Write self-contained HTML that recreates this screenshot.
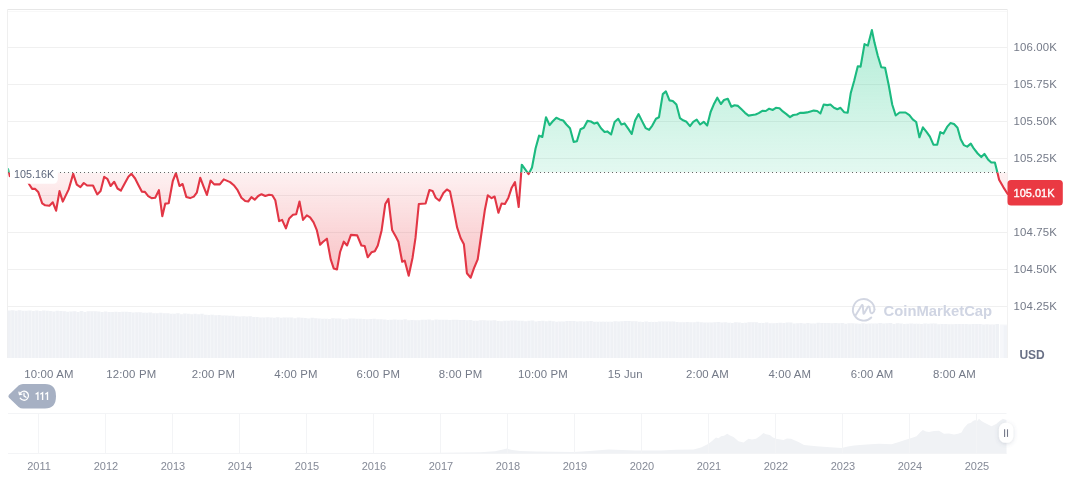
<!DOCTYPE html>
<html><head><meta charset="utf-8"><title>Chart</title>
<style>
html,body{margin:0;padding:0;background:#fff;}
body{width:1072px;height:477px;overflow:hidden;font-family:"Liberation Sans",sans-serif;}
svg{display:block;will-change:transform;font-family:"Liberation Sans",sans-serif;}
.ax{font-size:11.4px;fill:#747a88;letter-spacing:0.15px;}
.yr{font-size:11px;fill:#858a97;}
</style></head><body>
<svg width="1072" height="477" viewBox="0 0 1072 477">
<defs>
<linearGradient id="gg" gradientUnits="userSpaceOnUse" x1="0" y1="30" x2="0" y2="172.5">
<stop offset="0" stop-color="#16c784" stop-opacity="0.32"/><stop offset="1" stop-color="#16c784" stop-opacity="0.12"/></linearGradient>
<linearGradient id="rg" gradientUnits="userSpaceOnUse" x1="0" y1="172.5" x2="0" y2="278">
<stop offset="0" stop-color="#ea3943" stop-opacity="0.07"/><stop offset="1" stop-color="#ea3943" stop-opacity="0.32"/></linearGradient>
<clipPath id="up"><rect x="8.2" y="0" width="1000" height="172.5"/></clipPath>
<clipPath id="dn"><rect x="8.2" y="172.5" width="1000" height="300"/></clipPath>
<filter id="sh" x="-50%" y="-50%" width="200%" height="200%"><feDropShadow dx="0" dy="1" stdDeviation="2.2" flood-color="#58667e" flood-opacity="0.22"/></filter>
<filter id="bl" x="-10%" y="-20%" width="120%" height="140%"><feGaussianBlur stdDeviation="0.5"/></filter>
</defs>
<!-- grid -->
<g stroke="#f0f0f0" stroke-width="1" fill="none">
<line x1="7.5" y1="47.5" x2="1007.5" y2="47.5"/><line x1="7.5" y1="84.5" x2="1007.5" y2="84.5"/><line x1="7.5" y1="121.5" x2="1007.5" y2="121.5"/><line x1="7.5" y1="158.5" x2="1007.5" y2="158.5"/><line x1="7.5" y1="195.5" x2="1007.5" y2="195.5"/><line x1="7.5" y1="232.5" x2="1007.5" y2="232.5"/><line x1="7.5" y1="269.5" x2="1007.5" y2="269.5"/><line x1="7.5" y1="306.5" x2="1007.5" y2="306.5"/>
</g>
<g stroke-width="1" fill="none">
<line x1="7.5" y1="9.5" x2="1007.5" y2="9.5" stroke="#e7e7e7"/>
<line x1="7.5" y1="11.5" x2="1007.5" y2="11.5" stroke="#f8f8f8"/>
<line x1="7.5" y1="9.5" x2="7.5" y2="358.0" stroke="#efefef"/>
<line x1="1007.5" y1="9.5" x2="1007.5" y2="358.0" stroke="#f2f2f2"/>
</g>
<!-- volume -->
<path d="M7.5,358.0 L7.50,310.44 L10.94,310.44 L10.94,310.31 L14.39,310.31 L14.39,310.85 L17.83,310.85 L17.83,310.31 L21.27,310.31 L21.27,310.81 L24.71,310.81 L24.71,310.68 L28.16,310.68 L28.16,310.41 L31.60,310.41 L31.60,310.90 L35.04,310.90 L35.04,310.47 L38.48,310.47 L38.48,310.90 L41.93,310.90 L41.93,310.57 L45.37,310.57 L45.37,310.63 L48.81,310.63 L48.81,311.01 L52.26,311.01 L52.26,311.45 L55.70,311.45 L55.70,310.78 L59.14,310.78 L59.14,310.92 L62.58,310.92 L62.58,311.36 L66.03,311.36 L66.03,311.72 L69.47,311.72 L69.47,311.39 L72.91,311.39 L72.91,311.27 L76.35,311.27 L76.35,311.90 L79.80,311.90 L79.80,311.02 L83.24,311.02 L83.24,311.88 L86.68,311.88 L86.68,311.37 L90.12,311.37 L90.12,311.27 L93.57,311.27 L93.57,311.30 L97.01,311.30 L97.01,311.54 L100.45,311.54 L100.45,312.10 L103.90,312.10 L103.90,311.51 L107.34,311.51 L107.34,311.97 L110.78,311.97 L110.78,312.08 L114.22,312.08 L114.22,311.86 L117.67,311.86 L117.67,312.09 L121.11,312.09 L121.11,311.66 L124.55,311.66 L124.55,311.70 L127.99,311.70 L127.99,311.90 L131.44,311.90 L131.44,312.47 L134.88,312.47 L134.88,312.32 L138.32,312.32 L138.32,312.30 L141.77,312.30 L141.77,312.67 L145.21,312.67 L145.21,312.64 L148.65,312.64 L148.65,312.58 L152.09,312.58 L152.09,313.17 L155.54,313.17 L155.54,313.18 L158.98,313.18 L158.98,312.82 L162.42,312.82 L162.42,313.25 L165.86,313.25 L165.86,313.30 L169.31,313.30 L169.31,313.75 L172.75,313.75 L172.75,313.70 L176.19,313.70 L176.19,313.36 L179.64,313.36 L179.64,314.15 L183.08,314.15 L183.08,313.38 L186.52,313.38 L186.52,313.78 L189.96,313.78 L189.96,314.22 L193.41,314.22 L193.41,313.71 L196.85,313.71 L196.85,314.15 L200.29,314.15 L200.29,313.83 L203.73,313.83 L203.73,314.63 L207.18,314.63 L207.18,314.88 L210.62,314.88 L210.62,314.85 L214.06,314.85 L214.06,315.32 L217.51,315.32 L217.51,314.92 L220.95,314.92 L220.95,315.46 L224.39,315.46 L224.39,315.53 L227.83,315.53 L227.83,315.67 L231.28,315.67 L231.28,315.71 L234.72,315.71 L234.72,316.26 L238.16,316.26 L238.16,316.52 L241.60,316.52 L241.60,316.22 L245.05,316.22 L245.05,316.57 L248.49,316.57 L248.49,316.13 L251.93,316.13 L251.93,316.93 L255.38,316.93 L255.38,317.04 L258.82,317.04 L258.82,317.55 L262.26,317.55 L262.26,317.54 L265.70,317.54 L265.70,317.16 L269.15,317.16 L269.15,317.40 L272.59,317.40 L272.59,317.74 L276.03,317.74 L276.03,317.16 L279.47,317.16 L279.47,317.66 L282.92,317.66 L282.92,317.42 L286.36,317.42 L286.36,317.43 L289.80,317.43 L289.80,317.43 L293.24,317.43 L293.24,318.20 L296.69,318.20 L296.69,317.62 L300.13,317.62 L300.13,317.80 L303.57,317.80 L303.57,318.00 L307.02,318.00 L307.02,318.54 L310.46,318.54 L310.46,317.81 L313.90,317.81 L313.90,318.24 L317.34,318.24 L317.34,318.40 L320.79,318.40 L320.79,318.79 L324.23,318.79 L324.23,318.79 L327.67,318.79 L327.67,318.89 L331.11,318.89 L331.11,318.36 L334.56,318.36 L334.56,318.56 L338.00,318.56 L338.00,318.56 L341.44,318.56 L341.44,319.15 L344.89,319.15 L344.89,319.28 L348.33,319.28 L348.33,318.53 L351.77,318.53 L351.77,318.62 L355.21,318.62 L355.21,318.73 L358.66,318.73 L358.66,318.79 L362.10,318.79 L362.10,319.11 L365.54,319.11 L365.54,319.27 L368.98,319.27 L368.98,319.00 L372.43,319.00 L372.43,318.80 L375.87,318.80 L375.87,319.28 L379.31,319.28 L379.31,319.28 L382.76,319.28 L382.76,319.52 L386.20,319.52 L386.20,319.94 L389.64,319.94 L389.64,319.72 L393.08,319.72 L393.08,319.58 L396.53,319.58 L396.53,319.73 L399.97,319.73 L399.97,319.82 L403.41,319.82 L403.41,319.24 L406.85,319.24 L406.85,320.13 L410.30,320.13 L410.30,320.05 L413.74,320.05 L413.74,320.18 L417.18,320.18 L417.18,320.14 L420.62,320.14 L420.62,319.78 L424.07,319.78 L424.07,319.82 L427.51,319.82 L427.51,319.57 L430.95,319.57 L430.95,320.14 L434.40,320.14 L434.40,319.60 L437.84,319.60 L437.84,319.65 L441.28,319.65 L441.28,319.83 L444.72,319.83 L444.72,319.82 L448.17,319.82 L448.17,320.04 L451.61,320.04 L451.61,319.79 L455.05,319.79 L455.05,319.78 L458.49,319.78 L458.49,319.97 L461.94,319.97 L461.94,319.96 L465.38,319.96 L465.38,320.26 L468.82,320.26 L468.82,319.96 L472.27,319.96 L472.27,320.85 L475.71,320.85 L475.71,320.63 L479.15,320.63 L479.15,320.20 L482.59,320.20 L482.59,320.34 L486.04,320.34 L486.04,320.48 L489.48,320.48 L489.48,320.54 L492.92,320.54 L492.92,320.33 L496.36,320.33 L496.36,321.10 L499.81,321.10 L499.81,321.28 L503.25,321.28 L503.25,320.79 L506.69,320.79 L506.69,320.85 L510.14,320.85 L510.14,320.49 L513.58,320.49 L513.58,320.55 L517.02,320.55 L517.02,320.83 L520.46,320.83 L520.46,320.77 L523.91,320.77 L523.91,321.35 L527.35,321.35 L527.35,320.70 L530.79,320.70 L530.79,320.58 L534.23,320.58 L534.23,321.52 L537.68,321.52 L537.68,321.12 L541.12,321.12 L541.12,320.75 L544.56,320.75 L544.56,321.16 L548.01,321.16 L548.01,320.66 L551.45,320.66 L551.45,321.18 L554.89,321.18 L554.89,321.65 L558.33,321.65 L558.33,321.55 L561.78,321.55 L561.78,321.40 L565.22,321.40 L565.22,320.98 L568.66,320.98 L568.66,321.10 L572.10,321.10 L572.10,320.92 L575.55,320.92 L575.55,321.54 L578.99,321.54 L578.99,321.31 L582.43,321.31 L582.43,321.58 L585.88,321.58 L585.88,321.14 L589.32,321.14 L589.32,321.05 L592.76,321.05 L592.76,321.66 L596.20,321.66 L596.20,321.84 L599.65,321.84 L599.65,321.73 L603.09,321.73 L603.09,321.70 L606.53,321.70 L606.53,321.73 L609.97,321.73 L609.97,321.66 L613.42,321.66 L613.42,321.17 L616.86,321.17 L616.86,321.47 L620.30,321.47 L620.30,321.33 L623.74,321.33 L623.74,321.02 L627.19,321.02 L627.19,321.03 L630.63,321.03 L630.63,321.30 L634.07,321.30 L634.07,321.29 L637.52,321.29 L637.52,321.74 L640.96,321.74 L640.96,322.02 L644.40,322.02 L644.40,321.53 L647.84,321.53 L647.84,322.04 L651.29,322.04 L651.29,322.12 L654.73,322.12 L654.73,322.12 L658.17,322.12 L658.17,321.56 L661.61,321.56 L661.61,321.45 L665.06,321.45 L665.06,321.49 L668.50,321.49 L668.50,321.50 L671.94,321.50 L671.94,321.54 L675.39,321.54 L675.39,322.00 L678.83,322.00 L678.83,322.31 L682.27,322.31 L682.27,322.28 L685.71,322.28 L685.71,321.95 L689.16,321.95 L689.16,322.16 L692.60,322.16 L692.60,322.34 L696.04,322.34 L696.04,321.66 L699.48,321.66 L699.48,322.27 L702.93,322.27 L702.93,322.56 L706.37,322.56 L706.37,322.46 L709.81,322.46 L709.81,322.47 L713.26,322.47 L713.26,322.23 L716.70,322.23 L716.70,321.96 L720.14,321.96 L720.14,322.61 L723.58,322.61 L723.58,322.19 L727.03,322.19 L727.03,322.69 L730.47,322.69 L730.47,322.89 L733.91,322.89 L733.91,322.35 L737.35,322.35 L737.35,322.39 L740.80,322.39 L740.80,322.97 L744.24,322.97 L744.24,322.78 L747.68,322.78 L747.68,322.26 L751.13,322.26 L751.12,322.26 L754.57,322.26 L754.57,322.31 L758.01,322.31 L758.01,323.10 L761.45,323.10 L761.45,323.04 L764.90,323.04 L764.90,322.41 L768.34,322.41 L768.34,323.13 L771.78,323.13 L771.78,323.32 L775.22,323.32 L775.22,323.03 L778.67,323.03 L778.67,322.75 L782.11,322.75 L782.11,322.99 L785.55,322.99 L785.55,322.60 L788.99,322.60 L788.99,322.52 L792.44,322.52 L792.44,323.49 L795.88,323.49 L795.88,323.19 L799.32,323.19 L799.32,323.09 L802.77,323.09 L802.77,323.52 L806.21,323.52 L806.21,323.04 L809.65,323.04 L809.65,323.49 L813.09,323.49 L813.09,323.47 L816.54,323.47 L816.54,322.87 L819.98,322.87 L819.98,322.93 L823.42,322.93 L823.42,322.99 L826.86,322.99 L826.86,322.96 L830.31,322.96 L830.31,323.33 L833.75,323.33 L833.75,323.02 L837.19,323.02 L837.19,323.20 L840.64,323.20 L840.64,322.93 L844.08,322.93 L844.08,323.73 L847.52,323.73 L847.52,323.19 L850.96,323.19 L850.96,323.32 L854.41,323.32 L854.41,323.46 L857.85,323.46 L857.85,323.80 L861.29,323.80 L861.29,323.34 L864.73,323.34 L864.73,323.86 L868.18,323.86 L868.18,323.46 L871.62,323.46 L871.62,323.51 L875.06,323.51 L875.06,323.52 L878.51,323.52 L878.51,323.04 L881.95,323.04 L881.95,323.48 L885.39,323.48 L885.39,323.24 L888.83,323.24 L888.83,323.08 L892.28,323.08 L892.28,323.90 L895.72,323.90 L895.72,323.29 L899.16,323.29 L899.16,323.61 L902.60,323.61 L902.60,323.88 L906.05,323.88 L906.05,323.73 L909.49,323.73 L909.49,323.52 L912.93,323.52 L912.93,323.73 L916.38,323.73 L916.38,323.79 L919.82,323.79 L919.82,324.04 L923.26,324.04 L923.26,323.38 L926.70,323.38 L926.70,323.86 L930.15,323.86 L930.15,323.56 L933.59,323.56 L933.59,323.61 L937.03,323.61 L937.03,324.13 L940.47,324.13 L940.47,323.88 L943.92,323.88 L943.92,323.96 L947.36,323.96 L947.36,324.17 L950.80,324.17 L950.80,324.35 L954.24,324.35 L954.24,323.90 L957.69,323.90 L957.69,324.09 L961.13,324.09 L961.13,324.00 L964.57,324.00 L964.57,324.02 L968.02,324.02 L968.02,324.22 L971.46,324.22 L971.46,324.00 L974.90,324.00 L974.90,324.10 L978.34,324.10 L978.34,324.07 L981.79,324.07 L981.79,324.55 L985.23,324.55 L985.23,324.33 L988.67,324.33 L988.67,324.53 L992.11,324.53 L992.11,324.61 L995.56,324.61 L995.56,323.95 L999.00,323.95 L999,358.0 Z" fill="#eff1f5"/>
<g stroke="#f6f8fa" stroke-width="0.8"><line x1="10.94" y1="310.6" x2="10.94" y2="358.0"/><line x1="14.39" y1="310.7" x2="14.39" y2="358.0"/><line x1="17.83" y1="310.7" x2="17.83" y2="358.0"/><line x1="21.27" y1="310.8" x2="21.27" y2="358.0"/><line x1="24.71" y1="310.8" x2="24.71" y2="358.0"/><line x1="28.16" y1="310.8" x2="28.16" y2="358.0"/><line x1="31.60" y1="310.9" x2="31.60" y2="358.0"/><line x1="35.04" y1="310.9" x2="35.04" y2="358.0"/><line x1="38.48" y1="310.9" x2="38.48" y2="358.0"/><line x1="41.93" y1="311.0" x2="41.93" y2="358.0"/><line x1="45.37" y1="311.0" x2="45.37" y2="358.0"/><line x1="48.81" y1="311.1" x2="48.81" y2="358.0"/><line x1="52.26" y1="311.1" x2="52.26" y2="358.0"/><line x1="55.70" y1="311.1" x2="55.70" y2="358.0"/><line x1="59.14" y1="311.2" x2="59.14" y2="358.0"/><line x1="62.58" y1="311.2" x2="62.58" y2="358.0"/><line x1="66.03" y1="311.3" x2="66.03" y2="358.0"/><line x1="69.47" y1="311.3" x2="69.47" y2="358.0"/><line x1="72.91" y1="311.3" x2="72.91" y2="358.0"/><line x1="76.35" y1="311.4" x2="76.35" y2="358.0"/><line x1="79.80" y1="311.4" x2="79.80" y2="358.0"/><line x1="83.24" y1="311.5" x2="83.24" y2="358.0"/><line x1="86.68" y1="311.6" x2="86.68" y2="358.0"/><line x1="90.12" y1="311.6" x2="90.12" y2="358.0"/><line x1="93.57" y1="311.7" x2="93.57" y2="358.0"/><line x1="97.01" y1="311.7" x2="97.01" y2="358.0"/><line x1="100.45" y1="311.8" x2="100.45" y2="358.0"/><line x1="103.90" y1="311.8" x2="103.90" y2="358.0"/><line x1="107.34" y1="311.9" x2="107.34" y2="358.0"/><line x1="110.78" y1="311.9" x2="110.78" y2="358.0"/><line x1="114.22" y1="312.0" x2="114.22" y2="358.0"/><line x1="117.67" y1="312.0" x2="117.67" y2="358.0"/><line x1="121.11" y1="312.1" x2="121.11" y2="358.0"/><line x1="124.55" y1="312.1" x2="124.55" y2="358.0"/><line x1="127.99" y1="312.2" x2="127.99" y2="358.0"/><line x1="131.44" y1="312.2" x2="131.44" y2="358.0"/><line x1="134.88" y1="312.3" x2="134.88" y2="358.0"/><line x1="138.32" y1="312.4" x2="138.32" y2="358.0"/><line x1="141.77" y1="312.5" x2="141.77" y2="358.0"/><line x1="145.21" y1="312.6" x2="145.21" y2="358.0"/><line x1="148.65" y1="312.7" x2="148.65" y2="358.0"/><line x1="152.09" y1="312.8" x2="152.09" y2="358.0"/><line x1="155.54" y1="312.9" x2="155.54" y2="358.0"/><line x1="158.98" y1="313.0" x2="158.98" y2="358.0"/><line x1="162.42" y1="313.1" x2="162.42" y2="358.0"/><line x1="165.86" y1="313.2" x2="165.86" y2="358.0"/><line x1="169.31" y1="313.3" x2="169.31" y2="358.0"/><line x1="172.75" y1="313.4" x2="172.75" y2="358.0"/><line x1="176.19" y1="313.5" x2="176.19" y2="358.0"/><line x1="179.64" y1="313.6" x2="179.64" y2="358.0"/><line x1="183.08" y1="313.7" x2="183.08" y2="358.0"/><line x1="186.52" y1="313.8" x2="186.52" y2="358.0"/><line x1="189.96" y1="313.9" x2="189.96" y2="358.0"/><line x1="193.41" y1="314.0" x2="193.41" y2="358.0"/><line x1="196.85" y1="314.1" x2="196.85" y2="358.0"/><line x1="200.29" y1="314.2" x2="200.29" y2="358.0"/><line x1="203.73" y1="314.4" x2="203.73" y2="358.0"/><line x1="207.18" y1="314.5" x2="207.18" y2="358.0"/><line x1="210.62" y1="314.7" x2="210.62" y2="358.0"/><line x1="214.06" y1="314.9" x2="214.06" y2="358.0"/><line x1="217.51" y1="315.0" x2="217.51" y2="358.0"/><line x1="220.95" y1="315.2" x2="220.95" y2="358.0"/><line x1="224.39" y1="315.3" x2="224.39" y2="358.0"/><line x1="227.83" y1="315.5" x2="227.83" y2="358.0"/><line x1="231.28" y1="315.7" x2="231.28" y2="358.0"/><line x1="234.72" y1="315.8" x2="234.72" y2="358.0"/><line x1="238.16" y1="316.0" x2="238.16" y2="358.0"/><line x1="241.60" y1="316.2" x2="241.60" y2="358.0"/><line x1="245.05" y1="316.3" x2="245.05" y2="358.0"/><line x1="248.49" y1="316.5" x2="248.49" y2="358.0"/><line x1="251.93" y1="316.6" x2="251.93" y2="358.0"/><line x1="255.38" y1="316.8" x2="255.38" y2="358.0"/><line x1="258.82" y1="317.0" x2="258.82" y2="358.0"/><line x1="262.26" y1="317.1" x2="262.26" y2="358.0"/><line x1="265.70" y1="317.3" x2="265.70" y2="358.0"/><line x1="269.15" y1="317.5" x2="269.15" y2="358.0"/><line x1="272.59" y1="317.5" x2="272.59" y2="358.0"/><line x1="276.03" y1="317.6" x2="276.03" y2="358.0"/><line x1="279.47" y1="317.7" x2="279.47" y2="358.0"/><line x1="282.92" y1="317.7" x2="282.92" y2="358.0"/><line x1="286.36" y1="317.8" x2="286.36" y2="358.0"/><line x1="289.80" y1="317.8" x2="289.80" y2="358.0"/><line x1="293.24" y1="317.9" x2="293.24" y2="358.0"/><line x1="296.69" y1="318.0" x2="296.69" y2="358.0"/><line x1="300.13" y1="318.0" x2="300.13" y2="358.0"/><line x1="303.57" y1="318.1" x2="303.57" y2="358.0"/><line x1="307.02" y1="318.1" x2="307.02" y2="358.0"/><line x1="310.46" y1="318.2" x2="310.46" y2="358.0"/><line x1="313.90" y1="318.3" x2="313.90" y2="358.0"/><line x1="317.34" y1="318.3" x2="317.34" y2="358.0"/><line x1="320.79" y1="318.4" x2="320.79" y2="358.0"/><line x1="324.23" y1="318.4" x2="324.23" y2="358.0"/><line x1="327.67" y1="318.5" x2="327.67" y2="358.0"/><line x1="331.11" y1="318.6" x2="331.11" y2="358.0"/><line x1="334.56" y1="318.6" x2="334.56" y2="358.0"/><line x1="338.00" y1="318.7" x2="338.00" y2="358.0"/><line x1="341.44" y1="318.7" x2="341.44" y2="358.0"/><line x1="344.89" y1="318.8" x2="344.89" y2="358.0"/><line x1="348.33" y1="318.9" x2="348.33" y2="358.0"/><line x1="351.77" y1="318.9" x2="351.77" y2="358.0"/><line x1="355.21" y1="319.0" x2="355.21" y2="358.0"/><line x1="358.66" y1="319.0" x2="358.66" y2="358.0"/><line x1="362.10" y1="319.1" x2="362.10" y2="358.0"/><line x1="365.54" y1="319.2" x2="365.54" y2="358.0"/><line x1="368.98" y1="319.2" x2="368.98" y2="358.0"/><line x1="372.43" y1="319.3" x2="372.43" y2="358.0"/><line x1="375.87" y1="319.3" x2="375.87" y2="358.0"/><line x1="379.31" y1="319.4" x2="379.31" y2="358.0"/><line x1="382.76" y1="319.4" x2="382.76" y2="358.0"/><line x1="386.20" y1="319.5" x2="386.20" y2="358.0"/><line x1="389.64" y1="319.5" x2="389.64" y2="358.0"/><line x1="393.08" y1="319.5" x2="393.08" y2="358.0"/><line x1="396.53" y1="319.6" x2="396.53" y2="358.0"/><line x1="399.97" y1="319.6" x2="399.97" y2="358.0"/><line x1="403.41" y1="319.7" x2="403.41" y2="358.0"/><line x1="406.85" y1="319.7" x2="406.85" y2="358.0"/><line x1="410.30" y1="319.7" x2="410.30" y2="358.0"/><line x1="413.74" y1="319.8" x2="413.74" y2="358.0"/><line x1="417.18" y1="319.8" x2="417.18" y2="358.0"/><line x1="420.62" y1="319.9" x2="420.62" y2="358.0"/><line x1="424.07" y1="319.9" x2="424.07" y2="358.0"/><line x1="427.51" y1="319.9" x2="427.51" y2="358.0"/><line x1="430.95" y1="320.0" x2="430.95" y2="358.0"/><line x1="434.40" y1="320.0" x2="434.40" y2="358.0"/><line x1="437.84" y1="320.1" x2="437.84" y2="358.0"/><line x1="441.28" y1="320.1" x2="441.28" y2="358.0"/><line x1="444.72" y1="320.1" x2="444.72" y2="358.0"/><line x1="448.17" y1="320.2" x2="448.17" y2="358.0"/><line x1="451.61" y1="320.2" x2="451.61" y2="358.0"/><line x1="455.05" y1="320.3" x2="455.05" y2="358.0"/><line x1="458.49" y1="320.3" x2="458.49" y2="358.0"/><line x1="461.94" y1="320.3" x2="461.94" y2="358.0"/><line x1="465.38" y1="320.4" x2="465.38" y2="358.0"/><line x1="468.82" y1="320.4" x2="468.82" y2="358.0"/><line x1="472.27" y1="320.5" x2="472.27" y2="358.0"/><line x1="475.71" y1="320.5" x2="475.71" y2="358.0"/><line x1="479.15" y1="320.5" x2="479.15" y2="358.0"/><line x1="482.59" y1="320.6" x2="482.59" y2="358.0"/><line x1="486.04" y1="320.6" x2="486.04" y2="358.0"/><line x1="489.48" y1="320.7" x2="489.48" y2="358.0"/><line x1="492.92" y1="320.7" x2="492.92" y2="358.0"/><line x1="496.36" y1="320.7" x2="496.36" y2="358.0"/><line x1="499.81" y1="320.8" x2="499.81" y2="358.0"/><line x1="503.25" y1="320.8" x2="503.25" y2="358.0"/><line x1="506.69" y1="320.8" x2="506.69" y2="358.0"/><line x1="510.14" y1="320.9" x2="510.14" y2="358.0"/><line x1="513.58" y1="320.9" x2="513.58" y2="358.0"/><line x1="517.02" y1="321.0" x2="517.02" y2="358.0"/><line x1="520.46" y1="321.0" x2="520.46" y2="358.0"/><line x1="523.91" y1="321.0" x2="523.91" y2="358.0"/><line x1="527.35" y1="321.0" x2="527.35" y2="358.0"/><line x1="530.79" y1="321.0" x2="530.79" y2="358.0"/><line x1="534.23" y1="321.1" x2="534.23" y2="358.0"/><line x1="537.68" y1="321.1" x2="537.68" y2="358.0"/><line x1="541.12" y1="321.1" x2="541.12" y2="358.0"/><line x1="544.56" y1="321.1" x2="544.56" y2="358.0"/><line x1="548.01" y1="321.1" x2="548.01" y2="358.0"/><line x1="551.45" y1="321.1" x2="551.45" y2="358.0"/><line x1="554.89" y1="321.2" x2="554.89" y2="358.0"/><line x1="558.33" y1="321.2" x2="558.33" y2="358.0"/><line x1="561.78" y1="321.2" x2="561.78" y2="358.0"/><line x1="565.22" y1="321.2" x2="565.22" y2="358.0"/><line x1="568.66" y1="321.2" x2="568.66" y2="358.0"/><line x1="572.10" y1="321.2" x2="572.10" y2="358.0"/><line x1="575.55" y1="321.3" x2="575.55" y2="358.0"/><line x1="578.99" y1="321.3" x2="578.99" y2="358.0"/><line x1="582.43" y1="321.3" x2="582.43" y2="358.0"/><line x1="585.88" y1="321.3" x2="585.88" y2="358.0"/><line x1="589.32" y1="321.3" x2="589.32" y2="358.0"/><line x1="592.76" y1="321.3" x2="592.76" y2="358.0"/><line x1="596.20" y1="321.4" x2="596.20" y2="358.0"/><line x1="599.65" y1="321.4" x2="599.65" y2="358.0"/><line x1="603.09" y1="321.4" x2="603.09" y2="358.0"/><line x1="606.53" y1="321.4" x2="606.53" y2="358.0"/><line x1="609.97" y1="321.4" x2="609.97" y2="358.0"/><line x1="613.42" y1="321.4" x2="613.42" y2="358.0"/><line x1="616.86" y1="321.4" x2="616.86" y2="358.0"/><line x1="620.30" y1="321.5" x2="620.30" y2="358.0"/><line x1="623.74" y1="321.5" x2="623.74" y2="358.0"/><line x1="627.19" y1="321.5" x2="627.19" y2="358.0"/><line x1="630.63" y1="321.5" x2="630.63" y2="358.0"/><line x1="634.07" y1="321.5" x2="634.07" y2="358.0"/><line x1="637.52" y1="321.5" x2="637.52" y2="358.0"/><line x1="640.96" y1="321.6" x2="640.96" y2="358.0"/><line x1="644.40" y1="321.6" x2="644.40" y2="358.0"/><line x1="647.84" y1="321.6" x2="647.84" y2="358.0"/><line x1="651.29" y1="321.6" x2="651.29" y2="358.0"/><line x1="654.73" y1="321.6" x2="654.73" y2="358.0"/><line x1="658.17" y1="321.7" x2="658.17" y2="358.0"/><line x1="661.61" y1="321.7" x2="661.61" y2="358.0"/><line x1="665.06" y1="321.8" x2="665.06" y2="358.0"/><line x1="668.50" y1="321.8" x2="668.50" y2="358.0"/><line x1="671.94" y1="321.8" x2="671.94" y2="358.0"/><line x1="675.39" y1="321.9" x2="675.39" y2="358.0"/><line x1="678.83" y1="321.9" x2="678.83" y2="358.0"/><line x1="682.27" y1="321.9" x2="682.27" y2="358.0"/><line x1="685.71" y1="322.0" x2="685.71" y2="358.0"/><line x1="689.16" y1="322.0" x2="689.16" y2="358.0"/><line x1="692.60" y1="322.0" x2="692.60" y2="358.0"/><line x1="696.04" y1="322.1" x2="696.04" y2="358.0"/><line x1="699.48" y1="322.1" x2="699.48" y2="358.0"/><line x1="702.93" y1="322.1" x2="702.93" y2="358.0"/><line x1="706.37" y1="322.2" x2="706.37" y2="358.0"/><line x1="709.81" y1="322.2" x2="709.81" y2="358.0"/><line x1="713.26" y1="322.2" x2="713.26" y2="358.0"/><line x1="716.70" y1="322.3" x2="716.70" y2="358.0"/><line x1="720.14" y1="322.3" x2="720.14" y2="358.0"/><line x1="723.58" y1="322.3" x2="723.58" y2="358.0"/><line x1="727.03" y1="322.4" x2="727.03" y2="358.0"/><line x1="730.47" y1="322.4" x2="730.47" y2="358.0"/><line x1="733.91" y1="322.4" x2="733.91" y2="358.0"/><line x1="737.35" y1="322.5" x2="737.35" y2="358.0"/><line x1="740.80" y1="322.5" x2="740.80" y2="358.0"/><line x1="744.24" y1="322.5" x2="744.24" y2="358.0"/><line x1="747.68" y1="322.6" x2="747.68" y2="358.0"/><line x1="751.12" y1="322.6" x2="751.12" y2="358.0"/><line x1="754.57" y1="322.6" x2="754.57" y2="358.0"/><line x1="758.01" y1="322.7" x2="758.01" y2="358.0"/><line x1="761.45" y1="322.7" x2="761.45" y2="358.0"/><line x1="764.90" y1="322.7" x2="764.90" y2="358.0"/><line x1="768.34" y1="322.8" x2="768.34" y2="358.0"/><line x1="771.78" y1="322.8" x2="771.78" y2="358.0"/><line x1="775.22" y1="322.9" x2="775.22" y2="358.0"/><line x1="778.67" y1="322.9" x2="778.67" y2="358.0"/><line x1="782.11" y1="322.9" x2="782.11" y2="358.0"/><line x1="785.55" y1="323.0" x2="785.55" y2="358.0"/><line x1="788.99" y1="323.0" x2="788.99" y2="358.0"/><line x1="792.44" y1="323.0" x2="792.44" y2="358.0"/><line x1="795.88" y1="323.0" x2="795.88" y2="358.0"/><line x1="799.32" y1="323.1" x2="799.32" y2="358.0"/><line x1="802.77" y1="323.1" x2="802.77" y2="358.0"/><line x1="806.21" y1="323.1" x2="806.21" y2="358.0"/><line x1="809.65" y1="323.1" x2="809.65" y2="358.0"/><line x1="813.09" y1="323.1" x2="813.09" y2="358.0"/><line x1="816.54" y1="323.2" x2="816.54" y2="358.0"/><line x1="819.98" y1="323.2" x2="819.98" y2="358.0"/><line x1="823.42" y1="323.2" x2="823.42" y2="358.0"/><line x1="826.86" y1="323.2" x2="826.86" y2="358.0"/><line x1="830.31" y1="323.2" x2="830.31" y2="358.0"/><line x1="833.75" y1="323.3" x2="833.75" y2="358.0"/><line x1="837.19" y1="323.3" x2="837.19" y2="358.0"/><line x1="840.64" y1="323.3" x2="840.64" y2="358.0"/><line x1="844.08" y1="323.3" x2="844.08" y2="358.0"/><line x1="847.52" y1="323.3" x2="847.52" y2="358.0"/><line x1="850.96" y1="323.4" x2="850.96" y2="358.0"/><line x1="854.41" y1="323.4" x2="854.41" y2="358.0"/><line x1="857.85" y1="323.4" x2="857.85" y2="358.0"/><line x1="861.29" y1="323.4" x2="861.29" y2="358.0"/><line x1="864.73" y1="323.4" x2="864.73" y2="358.0"/><line x1="868.18" y1="323.4" x2="868.18" y2="358.0"/><line x1="871.62" y1="323.5" x2="871.62" y2="358.0"/><line x1="875.06" y1="323.5" x2="875.06" y2="358.0"/><line x1="878.51" y1="323.5" x2="878.51" y2="358.0"/><line x1="881.95" y1="323.5" x2="881.95" y2="358.0"/><line x1="885.39" y1="323.5" x2="885.39" y2="358.0"/><line x1="888.83" y1="323.6" x2="888.83" y2="358.0"/><line x1="892.28" y1="323.6" x2="892.28" y2="358.0"/><line x1="895.72" y1="323.6" x2="895.72" y2="358.0"/><line x1="899.16" y1="323.6" x2="899.16" y2="358.0"/><line x1="902.60" y1="323.6" x2="902.60" y2="358.0"/><line x1="906.05" y1="323.7" x2="906.05" y2="358.0"/><line x1="909.49" y1="323.7" x2="909.49" y2="358.0"/><line x1="912.93" y1="323.7" x2="912.93" y2="358.0"/><line x1="916.38" y1="323.7" x2="916.38" y2="358.0"/><line x1="919.82" y1="323.7" x2="919.82" y2="358.0"/><line x1="923.26" y1="323.8" x2="923.26" y2="358.0"/><line x1="926.70" y1="323.8" x2="926.70" y2="358.0"/><line x1="930.15" y1="323.8" x2="930.15" y2="358.0"/><line x1="933.59" y1="323.8" x2="933.59" y2="358.0"/><line x1="937.03" y1="323.8" x2="937.03" y2="358.0"/><line x1="940.47" y1="323.9" x2="940.47" y2="358.0"/><line x1="943.92" y1="323.9" x2="943.92" y2="358.0"/><line x1="947.36" y1="323.9" x2="947.36" y2="358.0"/><line x1="950.80" y1="323.9" x2="950.80" y2="358.0"/><line x1="954.24" y1="323.9" x2="954.24" y2="358.0"/><line x1="957.69" y1="324.0" x2="957.69" y2="358.0"/><line x1="961.13" y1="324.0" x2="961.13" y2="358.0"/><line x1="964.57" y1="324.0" x2="964.57" y2="358.0"/><line x1="968.02" y1="324.0" x2="968.02" y2="358.0"/><line x1="971.46" y1="324.0" x2="971.46" y2="358.0"/><line x1="974.90" y1="324.1" x2="974.90" y2="358.0"/><line x1="978.34" y1="324.1" x2="978.34" y2="358.0"/><line x1="981.79" y1="324.1" x2="981.79" y2="358.0"/><line x1="985.23" y1="324.1" x2="985.23" y2="358.0"/><line x1="988.67" y1="324.1" x2="988.67" y2="358.0"/><line x1="992.11" y1="324.2" x2="992.11" y2="358.0"/><line x1="995.56" y1="324.2" x2="995.56" y2="358.0"/></g>
<rect x="999.8" y="324.5" width="7.2" height="33.5" fill="#f6f7fa"/><rect x="1003.8" y="325.5" width="3.2" height="32.5" fill="#f1f3f7"/>
<!-- watermark -->
<g fill="none" stroke="#d2d6e2" stroke-width="1.9" stroke-linecap="round" stroke-linejoin="round">
<path d="M871.3,317.5 A10.8,10.8 0 1 1 874.5,309.6"/>
<path d="M855.8,315 L861.6,305.4 Q862.4,304.4 862.8,305.8 L863.4,313.2 Q863.6,314.2 864.3,313.2 L867.6,307.2 Q868.8,305.6 869.6,307.4 L870.2,311.6 Q870.8,313.8 872.4,313.2 Q874.5,312.2 874.5,309.6"/>
</g>
<text x="883.6" y="315.8" font-size="14.8" font-weight="bold" fill="#d0d5e3">CoinMarketCap</text>
<!-- areas -->
<path d="M8.0,169.0 L9.7,176.0 L13.0,177.5 L20.0,178.5 L27.0,180.5 L29.8,185.2 L32.2,188.9 L35.2,188.9 L38.2,191.9 L42.2,203.3 L45.2,205.3 L49.4,205.8 L52.8,202.3 L56.1,210.7 L59.5,191.1 L62.8,201.6 L68.7,189.4 L73.2,173.8 L76.8,184.7 L80.4,187.2 L83.8,183.0 L87.1,185.5 L93.0,185.5 L97.2,194.4 L100.6,191.0 L104.2,176.8 L107.3,178.8 L110.6,186.0 L114.2,181.8 L117.5,188.5 L120.9,190.6 L125.1,182.7 L128.4,176.8 L131.5,173.8 L135.1,178.5 L138.5,185.2 L141.8,191.6 L144.9,191.9 L148.2,196.1 L151.6,198.1 L155.2,197.8 L158.9,190.2 L162.3,216.2 L165.3,203.6 L168.7,203.3 L172.8,181.0 L175.9,173.1 L179.5,186.0 L182.6,184.0 L186.3,196.9 L190.1,198.1 L193.8,196.6 L196.8,192.7 L200.2,177.7 L203.5,186.3 L206.9,194.9 L210.6,180.5 L214.2,184.4 L219.8,184.4 L223.8,179.4 L230.1,182.1 L233.8,185.2 L237.6,190.2 L241.4,197.7 L245.2,201.0 L248.2,201.5 L251.4,197.2 L254.7,199.7 L258.2,196.0 L261.5,194.2 L265.3,196.0 L269.1,194.7 L272.3,195.2 L275.3,200.3 L279.1,221.1 L282.1,219.9 L285.9,228.4 L289.2,218.4 L293.0,214.8 L296.2,214.3 L299.5,201.5 L303.0,219.9 L306.8,215.3 L310.1,217.4 L313.6,222.4 L316.9,230.4 L320.1,244.8 L323.1,241.8 L326.9,238.7 L330.7,259.4 L333.7,268.4 L337.0,269.4 L340.1,252.0 L343.8,241.7 L347.1,245.5 L350.9,234.9 L357.2,235.4 L361.4,245.5 L364.7,246.0 L367.7,257.3 L371.5,252.3 L374.8,251.3 L377.8,245.5 L381.6,230.4 L385.3,204.0 L388.4,198.9 L392.1,229.9 L395.9,236.7 L398.4,241.7 L402.2,261.8 L404.7,260.6 L408.7,275.7 L412.5,258.0 L415.5,237.9 L418.8,204.0 L425.6,203.5 L429.4,190.1 L432.6,190.9 L435.7,197.7 L439.4,200.7 L443.4,193.0 L446.9,189.5 L450.0,191.4 L453.1,206.5 L457.1,227.4 L460.6,238.0 L463.9,244.3 L466.9,273.2 L470.7,277.7 L474.0,268.2 L477.7,259.4 L481.5,233.0 L484.8,210.3 L487.8,195.2 L491.6,198.2 L494.6,196.5 L498.4,212.8 L501.6,203.5 L504.9,204.0 L508.4,197.7 L511.7,187.7 L515.0,182.1 L518.7,207.0 L521.8,164.7 L528.6,174.1 L532.0,167.5 L535.6,148.2 L539.1,135.6 L542.3,137.0 L546.0,117.3 L549.6,125.1 L552.8,121.3 L556.3,117.8 L559.7,119.4 L563.2,120.5 L566.4,124.5 L570.0,128.2 L573.7,141.9 L576.9,141.3 L580.5,129.3 L583.8,127.8 L587.4,120.9 L590.9,121.5 L594.3,123.6 L597.4,122.6 L601.0,128.2 L604.6,132.0 L607.3,131.4 L611.1,134.5 L614.6,122.0 L618.2,118.8 L621.4,124.5 L624.5,123.4 L628.2,128.7 L631.7,134.0 L635.1,120.5 L638.6,114.1 L642.2,121.4 L645.6,128.1 L649.1,129.8 L652.3,125.6 L656.0,118.7 L659.0,117.2 L662.8,94.1 L665.9,91.4 L669.5,100.4 L672.8,101.0 L676.4,104.6 L680.0,118.2 L683.1,120.3 L686.5,121.8 L690.0,126.2 L693.2,121.8 L696.7,119.7 L700.1,124.5 L703.7,121.8 L707.2,125.6 L710.6,112.0 L713.7,104.6 L717.3,97.7 L720.9,104.0 L724.0,100.0 L727.8,98.7 L731.4,106.7 L734.5,105.2 L738.0,105.9 L741.5,109.3 L745.0,112.8 L748.6,115.6 L752.2,115.0 L755.6,114.5 L758.7,113.1 L762.3,110.8 L765.8,111.0 L769.2,108.7 L772.8,109.9 L775.9,107.8 L779.5,108.2 L782.8,111.4 L786.4,114.1 L790.0,117.1 L793.3,115.0 L796.9,114.5 L800.0,112.9 L803.6,112.9 L807.0,112.4 L810.5,111.4 L813.7,110.6 L817.2,111.0 L820.4,113.5 L823.7,104.5 L827.3,105.1 L830.4,104.5 L834.0,107.8 L837.4,109.3 L840.5,107.8 L844.1,112.2 L847.7,112.6 L850.7,93.3 L854.2,80.8 L857.8,66.2 L860.6,66.6 L864.5,44.1 L867.9,45.6 L871.9,30.1 L874.6,43.1 L877.8,55.7 L881.3,67.2 L885.1,67.8 L888.7,85.0 L892.2,104.5 L895.7,115.5 L899.6,112.5 L905.5,112.5 L909.4,115.2 L912.7,119.3 L916.2,122.0 L919.4,137.3 L922.9,127.3 L926.7,132.1 L929.9,136.7 L933.4,144.7 L937.2,144.7 L940.3,132.1 L943.5,133.6 L947.1,126.9 L950.4,123.1 L954.0,124.1 L957.5,127.7 L960.7,139.2 L963.8,145.1 L967.2,146.6 L970.8,143.6 L973.9,148.7 L977.7,153.5 L981.3,157.1 L984.4,153.9 L988.0,159.4 L991.3,162.5 L994.9,162.5 L997.4,172.4 L999.1,179.7 L1003.3,187.1 L1007.5,193.8 L1007.5,172.5 L8.0,172.5 Z" fill="url(#gg)" clip-path="url(#up)"/>
<path d="M8.0,169.0 L9.7,176.0 L13.0,177.5 L20.0,178.5 L27.0,180.5 L29.8,185.2 L32.2,188.9 L35.2,188.9 L38.2,191.9 L42.2,203.3 L45.2,205.3 L49.4,205.8 L52.8,202.3 L56.1,210.7 L59.5,191.1 L62.8,201.6 L68.7,189.4 L73.2,173.8 L76.8,184.7 L80.4,187.2 L83.8,183.0 L87.1,185.5 L93.0,185.5 L97.2,194.4 L100.6,191.0 L104.2,176.8 L107.3,178.8 L110.6,186.0 L114.2,181.8 L117.5,188.5 L120.9,190.6 L125.1,182.7 L128.4,176.8 L131.5,173.8 L135.1,178.5 L138.5,185.2 L141.8,191.6 L144.9,191.9 L148.2,196.1 L151.6,198.1 L155.2,197.8 L158.9,190.2 L162.3,216.2 L165.3,203.6 L168.7,203.3 L172.8,181.0 L175.9,173.1 L179.5,186.0 L182.6,184.0 L186.3,196.9 L190.1,198.1 L193.8,196.6 L196.8,192.7 L200.2,177.7 L203.5,186.3 L206.9,194.9 L210.6,180.5 L214.2,184.4 L219.8,184.4 L223.8,179.4 L230.1,182.1 L233.8,185.2 L237.6,190.2 L241.4,197.7 L245.2,201.0 L248.2,201.5 L251.4,197.2 L254.7,199.7 L258.2,196.0 L261.5,194.2 L265.3,196.0 L269.1,194.7 L272.3,195.2 L275.3,200.3 L279.1,221.1 L282.1,219.9 L285.9,228.4 L289.2,218.4 L293.0,214.8 L296.2,214.3 L299.5,201.5 L303.0,219.9 L306.8,215.3 L310.1,217.4 L313.6,222.4 L316.9,230.4 L320.1,244.8 L323.1,241.8 L326.9,238.7 L330.7,259.4 L333.7,268.4 L337.0,269.4 L340.1,252.0 L343.8,241.7 L347.1,245.5 L350.9,234.9 L357.2,235.4 L361.4,245.5 L364.7,246.0 L367.7,257.3 L371.5,252.3 L374.8,251.3 L377.8,245.5 L381.6,230.4 L385.3,204.0 L388.4,198.9 L392.1,229.9 L395.9,236.7 L398.4,241.7 L402.2,261.8 L404.7,260.6 L408.7,275.7 L412.5,258.0 L415.5,237.9 L418.8,204.0 L425.6,203.5 L429.4,190.1 L432.6,190.9 L435.7,197.7 L439.4,200.7 L443.4,193.0 L446.9,189.5 L450.0,191.4 L453.1,206.5 L457.1,227.4 L460.6,238.0 L463.9,244.3 L466.9,273.2 L470.7,277.7 L474.0,268.2 L477.7,259.4 L481.5,233.0 L484.8,210.3 L487.8,195.2 L491.6,198.2 L494.6,196.5 L498.4,212.8 L501.6,203.5 L504.9,204.0 L508.4,197.7 L511.7,187.7 L515.0,182.1 L518.7,207.0 L521.8,164.7 L528.6,174.1 L532.0,167.5 L535.6,148.2 L539.1,135.6 L542.3,137.0 L546.0,117.3 L549.6,125.1 L552.8,121.3 L556.3,117.8 L559.7,119.4 L563.2,120.5 L566.4,124.5 L570.0,128.2 L573.7,141.9 L576.9,141.3 L580.5,129.3 L583.8,127.8 L587.4,120.9 L590.9,121.5 L594.3,123.6 L597.4,122.6 L601.0,128.2 L604.6,132.0 L607.3,131.4 L611.1,134.5 L614.6,122.0 L618.2,118.8 L621.4,124.5 L624.5,123.4 L628.2,128.7 L631.7,134.0 L635.1,120.5 L638.6,114.1 L642.2,121.4 L645.6,128.1 L649.1,129.8 L652.3,125.6 L656.0,118.7 L659.0,117.2 L662.8,94.1 L665.9,91.4 L669.5,100.4 L672.8,101.0 L676.4,104.6 L680.0,118.2 L683.1,120.3 L686.5,121.8 L690.0,126.2 L693.2,121.8 L696.7,119.7 L700.1,124.5 L703.7,121.8 L707.2,125.6 L710.6,112.0 L713.7,104.6 L717.3,97.7 L720.9,104.0 L724.0,100.0 L727.8,98.7 L731.4,106.7 L734.5,105.2 L738.0,105.9 L741.5,109.3 L745.0,112.8 L748.6,115.6 L752.2,115.0 L755.6,114.5 L758.7,113.1 L762.3,110.8 L765.8,111.0 L769.2,108.7 L772.8,109.9 L775.9,107.8 L779.5,108.2 L782.8,111.4 L786.4,114.1 L790.0,117.1 L793.3,115.0 L796.9,114.5 L800.0,112.9 L803.6,112.9 L807.0,112.4 L810.5,111.4 L813.7,110.6 L817.2,111.0 L820.4,113.5 L823.7,104.5 L827.3,105.1 L830.4,104.5 L834.0,107.8 L837.4,109.3 L840.5,107.8 L844.1,112.2 L847.7,112.6 L850.7,93.3 L854.2,80.8 L857.8,66.2 L860.6,66.6 L864.5,44.1 L867.9,45.6 L871.9,30.1 L874.6,43.1 L877.8,55.7 L881.3,67.2 L885.1,67.8 L888.7,85.0 L892.2,104.5 L895.7,115.5 L899.6,112.5 L905.5,112.5 L909.4,115.2 L912.7,119.3 L916.2,122.0 L919.4,137.3 L922.9,127.3 L926.7,132.1 L929.9,136.7 L933.4,144.7 L937.2,144.7 L940.3,132.1 L943.5,133.6 L947.1,126.9 L950.4,123.1 L954.0,124.1 L957.5,127.7 L960.7,139.2 L963.8,145.1 L967.2,146.6 L970.8,143.6 L973.9,148.7 L977.7,153.5 L981.3,157.1 L984.4,153.9 L988.0,159.4 L991.3,162.5 L994.9,162.5 L997.4,172.4 L999.1,179.7 L1003.3,187.1 L1007.5,193.8 L1007.5,172.5 L8.0,172.5 Z" fill="url(#rg)" clip-path="url(#dn)"/>
<!-- baseline -->
<line x1="8" y1="172.5" x2="1006" y2="172.5" stroke="#666" stroke-width="1" stroke-dasharray="1 3"/>
<!-- line -->
<path d="M8.0,169.0 L9.7,176.0 L13.0,177.5 L20.0,178.5 L27.0,180.5 L29.8,185.2 L32.2,188.9 L35.2,188.9 L38.2,191.9 L42.2,203.3 L45.2,205.3 L49.4,205.8 L52.8,202.3 L56.1,210.7 L59.5,191.1 L62.8,201.6 L68.7,189.4 L73.2,173.8 L76.8,184.7 L80.4,187.2 L83.8,183.0 L87.1,185.5 L93.0,185.5 L97.2,194.4 L100.6,191.0 L104.2,176.8 L107.3,178.8 L110.6,186.0 L114.2,181.8 L117.5,188.5 L120.9,190.6 L125.1,182.7 L128.4,176.8 L131.5,173.8 L135.1,178.5 L138.5,185.2 L141.8,191.6 L144.9,191.9 L148.2,196.1 L151.6,198.1 L155.2,197.8 L158.9,190.2 L162.3,216.2 L165.3,203.6 L168.7,203.3 L172.8,181.0 L175.9,173.1 L179.5,186.0 L182.6,184.0 L186.3,196.9 L190.1,198.1 L193.8,196.6 L196.8,192.7 L200.2,177.7 L203.5,186.3 L206.9,194.9 L210.6,180.5 L214.2,184.4 L219.8,184.4 L223.8,179.4 L230.1,182.1 L233.8,185.2 L237.6,190.2 L241.4,197.7 L245.2,201.0 L248.2,201.5 L251.4,197.2 L254.7,199.7 L258.2,196.0 L261.5,194.2 L265.3,196.0 L269.1,194.7 L272.3,195.2 L275.3,200.3 L279.1,221.1 L282.1,219.9 L285.9,228.4 L289.2,218.4 L293.0,214.8 L296.2,214.3 L299.5,201.5 L303.0,219.9 L306.8,215.3 L310.1,217.4 L313.6,222.4 L316.9,230.4 L320.1,244.8 L323.1,241.8 L326.9,238.7 L330.7,259.4 L333.7,268.4 L337.0,269.4 L340.1,252.0 L343.8,241.7 L347.1,245.5 L350.9,234.9 L357.2,235.4 L361.4,245.5 L364.7,246.0 L367.7,257.3 L371.5,252.3 L374.8,251.3 L377.8,245.5 L381.6,230.4 L385.3,204.0 L388.4,198.9 L392.1,229.9 L395.9,236.7 L398.4,241.7 L402.2,261.8 L404.7,260.6 L408.7,275.7 L412.5,258.0 L415.5,237.9 L418.8,204.0 L425.6,203.5 L429.4,190.1 L432.6,190.9 L435.7,197.7 L439.4,200.7 L443.4,193.0 L446.9,189.5 L450.0,191.4 L453.1,206.5 L457.1,227.4 L460.6,238.0 L463.9,244.3 L466.9,273.2 L470.7,277.7 L474.0,268.2 L477.7,259.4 L481.5,233.0 L484.8,210.3 L487.8,195.2 L491.6,198.2 L494.6,196.5 L498.4,212.8 L501.6,203.5 L504.9,204.0 L508.4,197.7 L511.7,187.7 L515.0,182.1 L518.7,207.0 L521.8,164.7 L528.6,174.1 L532.0,167.5 L535.6,148.2 L539.1,135.6 L542.3,137.0 L546.0,117.3 L549.6,125.1 L552.8,121.3 L556.3,117.8 L559.7,119.4 L563.2,120.5 L566.4,124.5 L570.0,128.2 L573.7,141.9 L576.9,141.3 L580.5,129.3 L583.8,127.8 L587.4,120.9 L590.9,121.5 L594.3,123.6 L597.4,122.6 L601.0,128.2 L604.6,132.0 L607.3,131.4 L611.1,134.5 L614.6,122.0 L618.2,118.8 L621.4,124.5 L624.5,123.4 L628.2,128.7 L631.7,134.0 L635.1,120.5 L638.6,114.1 L642.2,121.4 L645.6,128.1 L649.1,129.8 L652.3,125.6 L656.0,118.7 L659.0,117.2 L662.8,94.1 L665.9,91.4 L669.5,100.4 L672.8,101.0 L676.4,104.6 L680.0,118.2 L683.1,120.3 L686.5,121.8 L690.0,126.2 L693.2,121.8 L696.7,119.7 L700.1,124.5 L703.7,121.8 L707.2,125.6 L710.6,112.0 L713.7,104.6 L717.3,97.7 L720.9,104.0 L724.0,100.0 L727.8,98.7 L731.4,106.7 L734.5,105.2 L738.0,105.9 L741.5,109.3 L745.0,112.8 L748.6,115.6 L752.2,115.0 L755.6,114.5 L758.7,113.1 L762.3,110.8 L765.8,111.0 L769.2,108.7 L772.8,109.9 L775.9,107.8 L779.5,108.2 L782.8,111.4 L786.4,114.1 L790.0,117.1 L793.3,115.0 L796.9,114.5 L800.0,112.9 L803.6,112.9 L807.0,112.4 L810.5,111.4 L813.7,110.6 L817.2,111.0 L820.4,113.5 L823.7,104.5 L827.3,105.1 L830.4,104.5 L834.0,107.8 L837.4,109.3 L840.5,107.8 L844.1,112.2 L847.7,112.6 L850.7,93.3 L854.2,80.8 L857.8,66.2 L860.6,66.6 L864.5,44.1 L867.9,45.6 L871.9,30.1 L874.6,43.1 L877.8,55.7 L881.3,67.2 L885.1,67.8 L888.7,85.0 L892.2,104.5 L895.7,115.5 L899.6,112.5 L905.5,112.5 L909.4,115.2 L912.7,119.3 L916.2,122.0 L919.4,137.3 L922.9,127.3 L926.7,132.1 L929.9,136.7 L933.4,144.7 L937.2,144.7 L940.3,132.1 L943.5,133.6 L947.1,126.9 L950.4,123.1 L954.0,124.1 L957.5,127.7 L960.7,139.2 L963.8,145.1 L967.2,146.6 L970.8,143.6 L973.9,148.7 L977.7,153.5 L981.3,157.1 L984.4,153.9 L988.0,159.4 L991.3,162.5 L994.9,162.5 L997.4,172.4 L999.1,179.7 L1003.3,187.1 L1007.5,193.8" fill="none" stroke="#1cba80" stroke-width="2.1" stroke-linejoin="round" stroke-linecap="round" clip-path="url(#up)"/>
<path d="M8.0,169.0 L9.7,176.0 L13.0,177.5 L20.0,178.5 L27.0,180.5 L29.8,185.2 L32.2,188.9 L35.2,188.9 L38.2,191.9 L42.2,203.3 L45.2,205.3 L49.4,205.8 L52.8,202.3 L56.1,210.7 L59.5,191.1 L62.8,201.6 L68.7,189.4 L73.2,173.8 L76.8,184.7 L80.4,187.2 L83.8,183.0 L87.1,185.5 L93.0,185.5 L97.2,194.4 L100.6,191.0 L104.2,176.8 L107.3,178.8 L110.6,186.0 L114.2,181.8 L117.5,188.5 L120.9,190.6 L125.1,182.7 L128.4,176.8 L131.5,173.8 L135.1,178.5 L138.5,185.2 L141.8,191.6 L144.9,191.9 L148.2,196.1 L151.6,198.1 L155.2,197.8 L158.9,190.2 L162.3,216.2 L165.3,203.6 L168.7,203.3 L172.8,181.0 L175.9,173.1 L179.5,186.0 L182.6,184.0 L186.3,196.9 L190.1,198.1 L193.8,196.6 L196.8,192.7 L200.2,177.7 L203.5,186.3 L206.9,194.9 L210.6,180.5 L214.2,184.4 L219.8,184.4 L223.8,179.4 L230.1,182.1 L233.8,185.2 L237.6,190.2 L241.4,197.7 L245.2,201.0 L248.2,201.5 L251.4,197.2 L254.7,199.7 L258.2,196.0 L261.5,194.2 L265.3,196.0 L269.1,194.7 L272.3,195.2 L275.3,200.3 L279.1,221.1 L282.1,219.9 L285.9,228.4 L289.2,218.4 L293.0,214.8 L296.2,214.3 L299.5,201.5 L303.0,219.9 L306.8,215.3 L310.1,217.4 L313.6,222.4 L316.9,230.4 L320.1,244.8 L323.1,241.8 L326.9,238.7 L330.7,259.4 L333.7,268.4 L337.0,269.4 L340.1,252.0 L343.8,241.7 L347.1,245.5 L350.9,234.9 L357.2,235.4 L361.4,245.5 L364.7,246.0 L367.7,257.3 L371.5,252.3 L374.8,251.3 L377.8,245.5 L381.6,230.4 L385.3,204.0 L388.4,198.9 L392.1,229.9 L395.9,236.7 L398.4,241.7 L402.2,261.8 L404.7,260.6 L408.7,275.7 L412.5,258.0 L415.5,237.9 L418.8,204.0 L425.6,203.5 L429.4,190.1 L432.6,190.9 L435.7,197.7 L439.4,200.7 L443.4,193.0 L446.9,189.5 L450.0,191.4 L453.1,206.5 L457.1,227.4 L460.6,238.0 L463.9,244.3 L466.9,273.2 L470.7,277.7 L474.0,268.2 L477.7,259.4 L481.5,233.0 L484.8,210.3 L487.8,195.2 L491.6,198.2 L494.6,196.5 L498.4,212.8 L501.6,203.5 L504.9,204.0 L508.4,197.7 L511.7,187.7 L515.0,182.1 L518.7,207.0 L521.8,164.7 L528.6,174.1 L532.0,167.5 L535.6,148.2 L539.1,135.6 L542.3,137.0 L546.0,117.3 L549.6,125.1 L552.8,121.3 L556.3,117.8 L559.7,119.4 L563.2,120.5 L566.4,124.5 L570.0,128.2 L573.7,141.9 L576.9,141.3 L580.5,129.3 L583.8,127.8 L587.4,120.9 L590.9,121.5 L594.3,123.6 L597.4,122.6 L601.0,128.2 L604.6,132.0 L607.3,131.4 L611.1,134.5 L614.6,122.0 L618.2,118.8 L621.4,124.5 L624.5,123.4 L628.2,128.7 L631.7,134.0 L635.1,120.5 L638.6,114.1 L642.2,121.4 L645.6,128.1 L649.1,129.8 L652.3,125.6 L656.0,118.7 L659.0,117.2 L662.8,94.1 L665.9,91.4 L669.5,100.4 L672.8,101.0 L676.4,104.6 L680.0,118.2 L683.1,120.3 L686.5,121.8 L690.0,126.2 L693.2,121.8 L696.7,119.7 L700.1,124.5 L703.7,121.8 L707.2,125.6 L710.6,112.0 L713.7,104.6 L717.3,97.7 L720.9,104.0 L724.0,100.0 L727.8,98.7 L731.4,106.7 L734.5,105.2 L738.0,105.9 L741.5,109.3 L745.0,112.8 L748.6,115.6 L752.2,115.0 L755.6,114.5 L758.7,113.1 L762.3,110.8 L765.8,111.0 L769.2,108.7 L772.8,109.9 L775.9,107.8 L779.5,108.2 L782.8,111.4 L786.4,114.1 L790.0,117.1 L793.3,115.0 L796.9,114.5 L800.0,112.9 L803.6,112.9 L807.0,112.4 L810.5,111.4 L813.7,110.6 L817.2,111.0 L820.4,113.5 L823.7,104.5 L827.3,105.1 L830.4,104.5 L834.0,107.8 L837.4,109.3 L840.5,107.8 L844.1,112.2 L847.7,112.6 L850.7,93.3 L854.2,80.8 L857.8,66.2 L860.6,66.6 L864.5,44.1 L867.9,45.6 L871.9,30.1 L874.6,43.1 L877.8,55.7 L881.3,67.2 L885.1,67.8 L888.7,85.0 L892.2,104.5 L895.7,115.5 L899.6,112.5 L905.5,112.5 L909.4,115.2 L912.7,119.3 L916.2,122.0 L919.4,137.3 L922.9,127.3 L926.7,132.1 L929.9,136.7 L933.4,144.7 L937.2,144.7 L940.3,132.1 L943.5,133.6 L947.1,126.9 L950.4,123.1 L954.0,124.1 L957.5,127.7 L960.7,139.2 L963.8,145.1 L967.2,146.6 L970.8,143.6 L973.9,148.7 L977.7,153.5 L981.3,157.1 L984.4,153.9 L988.0,159.4 L991.3,162.5 L994.9,162.5 L997.4,172.4 L999.1,179.7 L1003.3,187.1 L1007.5,193.8" fill="none" stroke="#e23645" stroke-width="2.1" stroke-linejoin="round" stroke-linecap="round" clip-path="url(#dn)"/>
<!-- baseline label -->
<rect x="10" y="165.5" width="47.8" height="18.2" rx="4.5" fill="#fff" filter="url(#bl)"/>
<text x="14.1" y="177.7" font-size="10.75" fill="#5d677c">105.16K</text>
<!-- y labels -->
<g class="ax">
<text x="1013.5" y="50.7">106.00K</text><text x="1013.5" y="87.7">105.75K</text><text x="1013.5" y="124.7">105.50K</text><text x="1013.5" y="161.7">105.25K</text><text x="1013.5" y="235.7">104.75K</text><text x="1013.5" y="272.7">104.50K</text><text x="1013.5" y="309.7">104.25K</text>
</g>
<text x="1019.4" y="358.6" font-size="12" font-weight="bold" fill="#697086">USD</text>
<!-- price tag -->
<rect x="1007.5" y="180" width="55.3" height="25.5" rx="3.5" fill="#ea3943"/>
<text x="1013.6" y="196.8" font-size="11" fill="#fff" stroke="#fff" stroke-width="0.35">105.01K</text>
<!-- x labels -->
<g class="ax" text-anchor="middle">
<text x="48.9" y="378.3">10:00 AM</text><text x="131.3" y="378.3">12:00 PM</text><text x="213.4" y="378.3">2:00 PM</text><text x="296.0" y="378.3">4:00 PM</text><text x="378.3" y="378.3">6:00 PM</text><text x="460.6" y="378.3">8:00 PM</text><text x="543.0" y="378.3">10:00 PM</text><text x="625.2" y="378.3">15 Jun</text><text x="707.5" y="378.3">2:00 AM</text><text x="789.8" y="378.3">4:00 AM</text><text x="872.1" y="378.3">6:00 AM</text><text x="954.4" y="378.3">8:00 AM</text>
</g>
<!-- badge -->
<path d="M9,394.8 L18.6,385.6 Q20.4,384 23,384 L45,384 Q56,384 56,396.3 Q56,408.6 45,408.6 L23,408.6 Q20.4,408.6 18.6,407 L9,397.8 Q7.6,396.3 9,394.8 Z" fill="#a6b0c3"/>
<g fill="none" stroke="#fff" stroke-width="1.3" stroke-linecap="round" stroke-linejoin="round">
<path d="M19.7,394.3 A4.5,4.5 0 1 1 20.2,398.2"/>
<path d="M24,393.2 L24,395.9 L26,397.3"/>
<path d="M19.0,392.2 L19.5,394.6 L21.9,394.2"/>
</g>
<g fill="none" stroke="#fff" stroke-width="1.35" stroke-linejoin="miter"><path d="M35.6,394.3 L37.9,392.7 L37.9,399.9"/><path d="M40.300000000000004,394.3 L42.6,392.7 L42.6,399.9"/><path d="M45.2,394.3 L47.5,392.7 L47.5,399.9"/></g>
<!-- navigator -->
<path d="M8,453.8 L8.0,453.3 L300.0,453.3 L400.0,453.0 L440.0,452.8 L480.0,452.2 L495.0,451.2 L503.0,449.4 L507.0,448.6 L512.0,450.0 L520.0,451.0 L536.0,451.6 L573.5,452.0 L590.0,451.0 L608.5,449.6 L636.0,450.6 L661.0,450.6 L676.0,449.7 L693.5,449.6 L701.0,447.5 L708.5,443.8 L712.0,441.0 L716.0,437.5 L718.5,438.2 L721.0,436.2 L724.0,435.8 L727.2,433.8 L730.0,435.4 L733.5,437.0 L738.5,441.2 L743.5,442.5 L748.5,438.8 L752.0,439.4 L756.0,438.8 L760.0,436.0 L763.5,433.0 L766.0,434.2 L769.8,435.0 L773.0,437.5 L776.0,438.8 L783.5,440.0 L787.0,438.5 L791.0,438.8 L795.0,440.5 L798.5,442.0 L804.0,445.0 L816.5,446.2 L830.0,447.3 L841.5,448.0 L848.0,446.6 L854.0,445.5 L866.5,444.5 L879.0,443.8 L891.5,444.2 L899.0,442.0 L905.0,440.0 L909.0,438.8 L913.0,437.6 L916.5,436.2 L920.0,432.5 L922.8,430.0 L926.0,431.5 L929.0,432.0 L934.0,431.0 L939.0,430.8 L944.0,433.8 L949.0,433.6 L954.0,434.5 L958.0,433.8 L961.5,432.5 L964.0,428.0 L967.8,423.8 L971.0,422.8 L973.0,421.0 L975.2,420.0 L977.0,421.2 L979.0,418.8 L981.5,421.0 L984.0,422.5 L988.0,424.5 L991.5,426.2 L994.0,425.0 L996.5,423.8 L999.0,421.5 L1002.8,418.8 L1005.0,419.4 L1006.5,420.0 L1006.5,453.8 Z" fill="#f0f2f5"/>
<g stroke="#f3f4f6" stroke-width="1">
<line x1="8" y1="413.5" x2="1006.5" y2="413.5"/>
<line x1="8" y1="453.5" x2="1006.5" y2="453.5"/>
<line x1="38.5" y1="413.5" x2="38.5" y2="453.5"/><line x1="105.5" y1="413.5" x2="105.5" y2="453.5"/><line x1="172.5" y1="413.5" x2="172.5" y2="453.5"/><line x1="239.5" y1="413.5" x2="239.5" y2="453.5"/><line x1="306.5" y1="413.5" x2="306.5" y2="453.5"/><line x1="373.5" y1="413.5" x2="373.5" y2="453.5"/><line x1="440.5" y1="413.5" x2="440.5" y2="453.5"/><line x1="507.5" y1="413.5" x2="507.5" y2="453.5"/><line x1="574.5" y1="413.5" x2="574.5" y2="453.5"/><line x1="641.5" y1="413.5" x2="641.5" y2="453.5"/><line x1="708.5" y1="413.5" x2="708.5" y2="453.5"/><line x1="775.5" y1="413.5" x2="775.5" y2="453.5"/><line x1="842.5" y1="413.5" x2="842.5" y2="453.5"/><line x1="909.5" y1="413.5" x2="909.5" y2="453.5"/><line x1="976.5" y1="413.5" x2="976.5" y2="453.5"/>
</g>
<g class="yr" text-anchor="middle">
<text x="39.0" y="470">2011</text><text x="106.0" y="470">2012</text><text x="173.0" y="470">2013</text><text x="240.0" y="470">2014</text><text x="307.0" y="470">2015</text><text x="374.0" y="470">2016</text><text x="441.0" y="470">2017</text><text x="508.0" y="470">2018</text><text x="575.0" y="470">2019</text><text x="642.0" y="470">2020</text><text x="709.0" y="470">2021</text><text x="776.0" y="470">2022</text><text x="843.0" y="470">2023</text><text x="910.0" y="470">2024</text><text x="977.0" y="470">2025</text>
</g>
<!-- handle -->
<rect x="998.9" y="422.8" width="14.4" height="20" rx="6.5" fill="#fff" filter="url(#sh)"/>
<g stroke="#747889" stroke-width="1.1"><line x1="1004.6" y1="429.3" x2="1004.6" y2="436.9"/><line x1="1007.5" y1="429.3" x2="1007.5" y2="436.9"/></g>
</svg>
</body></html>
